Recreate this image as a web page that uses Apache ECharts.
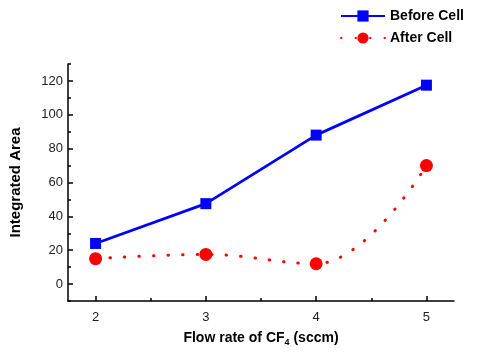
<!DOCTYPE html>
<html>
<head>
<meta charset="utf-8">
<script src="https://cdn.jsdelivr.net/npm/echarts@6/dist/echarts.min.js"></script>
<style>
  html, body { margin: 0; padding: 0; background: #fff; }
  #myChart { width: 477px; height: 352px; }
</style>
</head>
<body>
<div id="myChart"></div>
<script>
// flow rate of CF4 (sccm)
var flowRates = [2, 3, 4, 5];
var beforeCell = [24, 47.5, 88, 117.5];
var afterCell = [15, 17.5, 12, 70];
var yLabels = [0, 20, 40, 60, 80, 100, 120];
var yMinor = [-10, 10, 30, 50, 70, 90, 110, 130];
var xMinor = [2.5, 3.5, 4.5];

var myChart = echarts.init(document.getElementById('myChart'));

function pairs(xs, ys) {
  return xs.map(function (x, i) { return [x, ys[i]]; });
}

var fontFam = '"Liberation Sans", Arial, sans-serif';
var axisLine = { onZero: false, lineStyle: { color: '#000', width: 1.5 } };

var option = {
  animation: false,
  textStyle: { fontFamily: fontFam },
  legend: {
    orient: 'vertical',
    left: 335,
    top: 4,
    itemWidth: 44,
    itemHeight: 14,
    itemGap: 8,
    textStyle: { fontSize: 14, fontWeight: 'bold', color: '#000', fontFamily: fontFam },
    data: ['Before Cell', 'After Cell']
  },
  grid: { left: 67, right: 23, top: 64, bottom: 48 },
  xAxis: [{
    type: 'value',
    min: 1.75,
    max: 5.25,
    name: 'Flow rate of CF{sub|4} (sccm)',
    nameLocation: 'middle',
    nameGap: 29,
    nameTextStyle: {
      fontSize: 14, fontWeight: 'bold', color: '#000', fontFamily: fontFam,
      rich: { sub: { fontSize: 9, fontWeight: 'bold', color: '#000', padding: [8, 0, 0, 0] } }
    },
    axisLine: axisLine,
    axisTick: { inside: true, length: 5, lineStyle: { color: '#000', width: 1.5 }, customValues: flowRates },
    axisLabel: { fontSize: 13, color: '#222', margin: 10, customValues: flowRates },
    splitLine: { show: false }
  }, {
    type: 'value',
    min: 1.75,
    max: 5.25,
    position: 'bottom',
    axisLine: { show: false, onZero: false },
    axisTick: { inside: true, length: 3, lineStyle: { color: '#000', width: 1.5 }, customValues: xMinor },
    axisLabel: { show: false },
    splitLine: { show: false }
  }],
  yAxis: [{
    type: 'value',
    min: -10,
    max: 130,
    name: 'Integrated Area',
    nameLocation: 'middle',
    nameGap: 45,
    nameTextStyle: { fontSize: 15, fontWeight: 'bold', color: '#000', fontFamily: fontFam },
    axisLine: axisLine,
    axisTick: { inside: true, length: 5, lineStyle: { color: '#000', width: 1.5 }, customValues: yLabels },
    axisLabel: { fontSize: 13, color: '#222', margin: 5, customValues: yLabels },
    splitLine: { show: false }
  }, {
    type: 'value',
    min: -10,
    max: 130,
    position: 'left',
    axisLine: { show: false, onZero: false },
    axisTick: { inside: true, length: 3, lineStyle: { color: '#000', width: 1.5 }, customValues: yMinor },
    axisLabel: { show: false },
    splitLine: { show: false }
  }],
  series: [
    {
      name: 'Before Cell',
      type: 'line',
      data: pairs(flowRates, beforeCell),
      symbol: 'rect',
      symbolSize: 11,
      itemStyle: { color: '#0000ff' },
      lineStyle: { color: '#0000ff', width: 2.8 }
    },
    {
      name: 'After Cell',
      type: 'line',
      data: pairs(flowRates, afterCell),
      smooth: 0.4,
      symbol: 'circle',
      symbolSize: 13,
      itemStyle: { color: '#ff0000' },
      lineStyle: { color: '#ff0000', width: 3, type: [0.5, 14], cap: 'round' }
    }
  ]
};

myChart.setOption(option);
window.addEventListener('resize', function () { myChart.resize(); });
</script>
</body>
</html>
